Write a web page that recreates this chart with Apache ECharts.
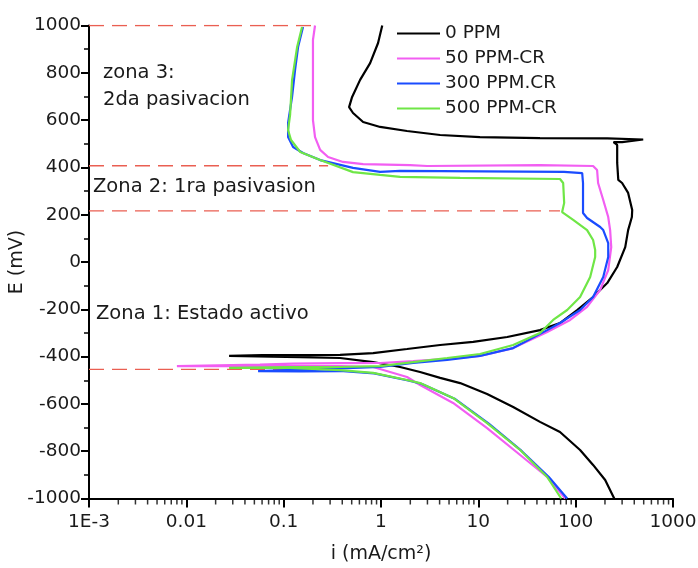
<!DOCTYPE html>
<html><head><meta charset="utf-8">
<script src="https://cdn.jsdelivr.net/npm/echarts@6/dist/echarts.min.js"></script>
<style>html,body{margin:0;padding:0;background:#fff}#c{width:698px;height:568px}</style>
</head><body><div id="c"></div>
<script>
// ---- data ----
const seriesNames = ['0 PPM', '50 PPM-CR', '300 PPM.CR', '500 PPM-CR'];

// [i (mA/cm2), E (mV)] in scan order
const curve0ppm = [
  [249,-1000],[201,-922],[151,-858],[111,-795],[69,-719],[43,-676],[22.8,-613],[12.3,-558],[6.5,-512],
  [4.05,-490],[2.52,-465],[1.57,-444],[0.83,-423],[0.38,-406],[0.148,-402],[0.0275,-397],
  [0.06,-394],[0.38,-393],[0.83,-385],[1.85,-368],[4.05,-351],[8.85,-338],[19.8,-317],[43,-288],
  [69,-258],[103.6,-203],[151,-148],[211,-89],[267,-21],[323,63],[346,135],[378,190],[381,220],
  [346,292],[300,334],[274,347],[267,419],[267,474],[267,495],[245,507],[300,507],[494,518],[494,521],
  [211,523],[43,524],[10.4,528],[4.05,537],[1.85,554],[0.98,571],[0.655,592],[0.516,630],[0.47,655],
  [0.505,698],[0.61,770],[0.773,841],[0.933,926],[1.03,1000]
];
const curve50ppm = [
  [78,-1000],[51,-909],[26.9,-816],[12.3,-702],[5.5,-596],[2.52,-520],[1.85,-486],[0.83,-444],
  [0.38,-440],[0.057,-440],[0.008,-440],
  [0.057,-434],[0.125,-430],[0.38,-428],[0.98,-427],[2.14,-419],[4.78,-410],[10.4,-397],[22.8,-364],
  [51,-296],[87.8,-245],[131,-190],[178.6,-118],[216,-34],[232,63],[226,135],[216,190],[192,262],
  [170,334],[166,389],[151,406],[43,410],[2.98,406],[1.99,410],[0.655,414],[0.407,423],[0.286,444],
  [0.237,474],[0.21,528],[0.2,600],[0.2,812],[0.2,939],[0.21,1000]
];
const curve300ppm = [
  [81.8,-1000],[53,-909],[28,-800],[12.8,-683],[5.7,-578],[2.6,-515],[1.9,-501],[0.85,-471],
  [0.38,-461],[0.15,-463],[0.0546,-461],
  [0.15,-455],[0.38,-450],[0.98,-444],[2.14,-427],[4.78,-414],[10.4,-397],[22.8,-364],[51,-288],
  [69,-258],[111,-203],[151,-148],[192,-63],[216,21],[216,80],[192,135],[178.6,148],[131,186],
  [119,207],[119,334],[116.7,376],[76,381],[1.57,385],[0.98,381],[0.516,398],[0.237,431],
  [0.158,461],[0.125,486],[0.111,528],[0.111,588],[0.122,698],[0.131,812],[0.1406,909],[0.158,994]
];
const curve500ppm = [
  [71,-1000],[51,-909],[26.9,-795],[12.3,-681],[5.5,-575],[2.52,-512],[1.85,-499],[0.83,-469],
  [0.38,-457],[0.116,-448],[0.0275,-448],
  [0.116,-444],[0.38,-444],[0.98,-440],[2.14,-423],[4.78,-406],[10.4,-389],[22.8,-351],[43,-300],
  [58.7,-245],[81.8,-203],[111,-148],[141,-63],[158.6,21],[158.6,51],[151,93],[131,135],[94.3,178],
  [72.6,211],[76.2,250],[74.4,334],[69,351],[6.5,356],[1.57,360],[0.98,368],[0.516,380],[0.237,431],
  [0.148,465],[0.119,516],[0.111,558],[0.1164,622],[0.122,770],[0.1375,909],[0.1545,994]
];

const zoneLevels = [1000, 407, 216, -454];     // dashed reference lines (mV)
const zoneEnds = [0.21, 0.286, 69, 0.34];      // where each dashed line stops (mA/cm2)

const xTickLabels = ['1E-3', '0.01', '0.1', '1', '10', '100', '1000'];
const yMin = -1000, yMax = 1000, yStep = 200;
const xMin = 0.001, xMax = 1000;

const annotations = ['zona 3:', '2da pasivacion', 'Zona 2: 1ra pasivasion', 'Zona 1: Estado activo'];

// ---- chart ----
const colors = ['#000000', '#F25EF2', '#1A4CFF', '#6FE646'];
const curves = [curve0ppm, curve50ppm, curve300ppm, curve500ppm];
const FONT = 'DejaVu Sans';

// minor tick positions of the log axis (2..9 within each decade)
const minorTicks = [];
for (let e = -3; e < 3; e++) for (let m = 2; m <= 9; m++) minorTicks.push([m * Math.pow(10, e), yMin]);

const series = [];
zoneLevels.forEach((lv, k) => {
  series.push({
    type: 'line', name: 'zone' + k, data: [[xMin, lv], [zoneEnds[k], lv]],
    showSymbol: false, silent: true, z: 1,
    lineStyle: { color: '#EA5F52', width: 1.4, type: [15, 8] }
  });
});
curves.forEach((c, k) => {
  series.push({
    type: 'line', name: seriesNames[k], data: c, showSymbol: false, symbol: 'none',
    lineStyle: { color: colors[k], width: 2.2 }, itemStyle: { color: colors[k] }, z: 2 + k
  });
});
series.push({
  type: 'scatter', name: 'minor', data: minorTicks, symbol: 'rect', symbolSize: [1.5, 5],
  symbolOffset: [0, 3.5], itemStyle: { color: '#000' }, silent: true, clip: false, z: 10
});

const labelFromValue = v => {
  const idx = Math.round(Math.log10(v)) + 3;
  return xTickLabels[idx] !== undefined ? xTickLabels[idx] : '';
};

const annPos = [[103, 73], [103, 100], [93, 187], [96, 314]];
const graphic = annotations.map((t, k) => ({
  type: 'text', x: annPos[k][0], y: annPos[k][1], silent: true,
  style: { text: t, fontSize: 19.5, fontFamily: FONT, fill: '#1a1a1a', verticalAlign: 'middle' }
}));

const chart = echarts.init(document.getElementById('c'), null, { renderer: 'canvas' });
chart.setOption({
  animation: false,
  backgroundColor: '#ffffff',
  grid: { left: 89, right: 25, top: 25.5, bottom: 69.5, containLabel: false, outerBoundsMode: 'none' },
  legend: {
    data: seriesNames.map(n => ({ name: n, icon: 'rect' })),
    orient: 'vertical', left: 397, top: 24, padding: 0, itemWidth: 43, itemHeight: 2, itemGap: 6,
    textStyle: { fontSize: 18.5, fontFamily: FONT, color: '#1a1a1a' }
  },
  xAxis: {
    type: 'log', logBase: 10, min: xMin, max: xMax, splitNumber: 6,
    name: 'i (mA/cm²)', nameLocation: 'middle', nameGap: 46, nameMoveOverlap: false,
    nameTextStyle: { fontSize: 19, fontFamily: FONT, color: '#1a1a1a' },
    axisLine: { onZero: false, lineStyle: { color: '#000', width: 2 } },
    axisTick: { show: true, length: 9, lineStyle: { width: 2, color: '#000' } },
    minorTick: { show: false },
    axisLabel: { formatter: labelFromValue, fontSize: 18.5, fontFamily: FONT, color: '#1a1a1a', margin: 14 },
    splitLine: { show: false }
  },
  yAxis: {
    type: 'value', min: yMin, max: yMax, interval: yStep,
    name: 'E (mV)', nameLocation: 'middle', nameGap: 62, nameRotate: 90, nameMoveOverlap: false,
    nameTextStyle: { fontSize: 19, fontFamily: FONT, color: '#1a1a1a' },
    axisLine: { show: true, onZero: false, lineStyle: { color: '#000', width: 2 } },
    axisTick: { show: true, length: 8, lineStyle: { width: 2, color: '#000' } },
    minorTick: { show: true, splitNumber: 2, length: 5, lineStyle: { width: 1.5, color: '#000' } },
    axisLabel: { formatter: v => String(v), fontSize: 18.5, fontFamily: FONT, color: '#1a1a1a', margin: 8 },
    splitLine: { show: false }, minorSplitLine: { show: false }
  },
  graphic: graphic,
  series: series
});
</script>
</body></html>
